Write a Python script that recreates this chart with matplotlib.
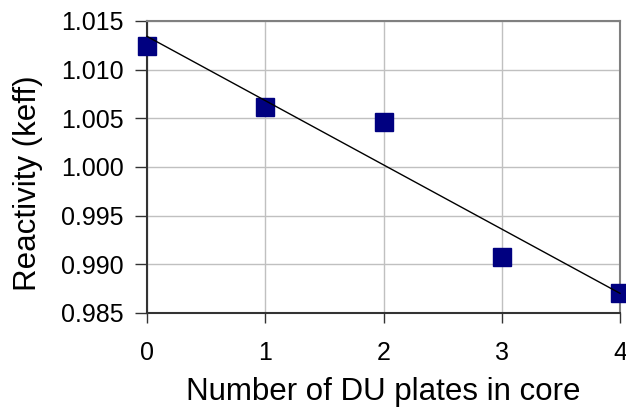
import numpy as np
import matplotlib
matplotlib.use("Agg")
import matplotlib.pyplot as plt

plt.rcParams['font.family'] = ['Liberation Sans', 'DejaVu Sans']

# data
du_plates = [0, 1, 2, 3, 4]
keff = [1.0124, 1.0062, 1.0046, 0.9908, 0.9871]
y_ticks = [0.985, 0.990, 0.995, 1.000, 1.005, 1.010, 1.015]
x_ticks = [0, 1, 2, 3, 4]

fig = plt.figure(figsize=(6.26, 4.07), dpi=100)
ax = fig.add_axes([147 / 626, 1 - 313 / 407, 473 / 626, 292 / 407])

ax.set_xlim(0, 4)
ax.set_ylim(0.985, 1.015)
ax.set_xticks(x_ticks)
ax.set_yticks(y_ticks)
ax.set_yticklabels(['%.3f' % v for v in y_ticks])

ax.grid(True, color='#c0c0c0', linewidth=1.0)
ax.set_axisbelow(True)

# linear trend line
slope, icpt = np.polyfit(du_plates, keff, 1)
xs = np.array([x_ticks[0], x_ticks[-1]])
ax.plot(du_plates, keff, 's', color='#000080', markersize=13.5,
        clip_on=False, zorder=4)
ax.plot(xs, slope * xs + icpt, color='black', linewidth=1.0, zorder=5,
        clip_on=False)

for s in ['top', 'right']:
    ax.spines[s].set_color('#808080')
    ax.spines[s].set_linewidth(1.5)
for s in ['left', 'bottom']:
    ax.spines[s].set_color('#333333')
    ax.spines[s].set_linewidth(1.5)

ax.tick_params(axis='x', direction='out', length=7, width=1, color='#333333',
               labelsize=18, pad=13)
ax.tick_params(axis='y', direction='out', length=9, width=1, color='#333333',
               labelsize=18, pad=8)

ax.set_xlabel('Number of DU plates in core', fontsize=22.5, va='center')
ax.set_ylabel('Reactivity (keff)', fontsize=22.5, va='center')
ax.xaxis.set_label_coords((383 - 147) / 473, (313 - 392) / 292)
ax.yaxis.set_label_coords((28 - 147) / 473, (313 - 183.5) / 292)

fig.savefig('out.png', dpi=100)
